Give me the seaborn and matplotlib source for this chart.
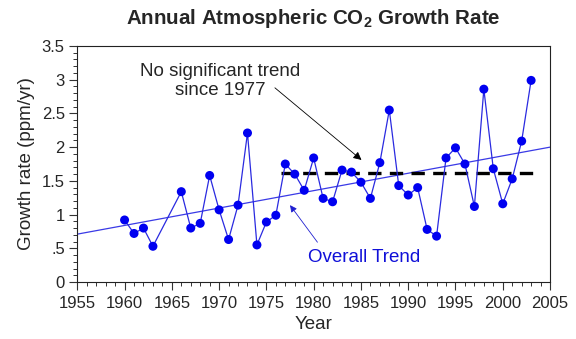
import matplotlib
matplotlib.use("Agg")
import matplotlib.pyplot as plt
import matplotlib.ticker as mticker
import seaborn as sns
import pandas as pd

years = [1960, 1961, 1962, 1963, 1966, 1967, 1968, 1969, 1970, 1971, 1972, 1973,
         1974, 1975, 1976, 1977, 1978, 1979, 1980, 1981, 1982, 1983, 1984, 1985,
         1986, 1987, 1988, 1989, 1990, 1991, 1992, 1993, 1994, 1995, 1996, 1997,
         1998, 1999, 2000, 2001, 2002, 2003]
growth = [0.92, 0.72, 0.80, 0.53, 1.34, 0.80, 0.87, 1.58, 1.07, 0.63, 1.14, 2.21,
          0.55, 0.89, 0.99, 1.75, 1.60, 1.36, 1.84, 1.24, 1.19, 1.66, 1.63, 1.48,
          1.24, 1.77, 2.55, 1.43, 1.29, 1.40, 0.78, 0.68, 1.84, 1.99, 1.75, 1.12,
          2.86, 1.68, 1.16, 1.53, 2.09, 2.99]

trend_years = [1955, 2005]
trend_values = [0.71, 2.00]

flat_years = [1976.5, 2004]
flat_values = [1.61, 1.61]

x_ticks = [1955, 1960, 1965, 1970, 1975, 1980, 1985, 1990, 1995, 2000, 2005]
y_ticks = [0, 0.5, 1, 1.5, 2, 2.5, 3, 3.5]
y_tick_labels = ["0", ".5", "1", "1.5", "2", "2.5", "3", "3.5"]

sns.set_style("ticks")
plt.rcParams["font.family"] = ["Liberation Sans", "DejaVu Sans"]
plt.rcParams["mathtext.fontset"] = "custom"
plt.rcParams["mathtext.rm"] = "Liberation Sans"
plt.rcParams["mathtext.bf"] = "Liberation Sans:bold"

df = pd.DataFrame({"Year": years, "Growth": growth})
trend_df = pd.DataFrame({"Year": trend_years, "Growth": trend_values})
flat_df = pd.DataFrame({"Year": flat_years, "Growth": flat_values})

fig = plt.figure(figsize=(5.76, 3.39), dpi=100)
ax = fig.add_axes([0.1342, 0.1681, 0.8207, 0.6962])

sns.lineplot(data=trend_df, x="Year", y="Growth", ax=ax, color="#3a3ae6", lw=0.9)
sns.lineplot(data=flat_df, x="Year", y="Growth", ax=ax, color="black", lw=2.4,
             dashes=False, linestyle=(0, (4.0, 2.5)))
sns.lineplot(data=df, x="Year", y="Growth", ax=ax, color="#2a2ae0", lw=0.9)
sns.scatterplot(data=df, x="Year", y="Growth", ax=ax, color="#0000f0", s=42,
                edgecolor="none", zorder=5)

ax.set_xlim(1955, 2005)
ax.set_ylim(0, 3.5)
ax.set_xticks(x_ticks)
ax.set_yticks(y_ticks)
ax.set_yticklabels(y_tick_labels)
ax.xaxis.set_minor_locator(mticker.MultipleLocator(1))
ax.yaxis.set_minor_locator(mticker.MultipleLocator(0.1))
ax.tick_params(axis="both", which="major", direction="out", length=6, width=0.8,
               labelsize=12, color="#333333")
ax.tick_params(axis="both", which="minor", direction="out", length=3, width=0.7,
               color="#333333")
ax.tick_params(axis="x", pad=4)
ax.tick_params(axis="y", pad=3)
for sp in ax.spines.values():
    sp.set_visible(True)
    sp.set_linewidth(0.8)
    sp.set_color("#222222")

ax.set_xlabel("Year", fontsize=13.5, labelpad=4)
ax.set_ylabel("Growth rate (ppm/yr)", fontsize=13.5, labelpad=5)

fig.text(0.5434, 1 - 19 / 339, r"Annual Atmospheric CO$_\mathbf{2}$ Growth Rate",
         ha="center", va="center", fontsize=14.8, fontweight="bold")

ax.text(1970.1, 2.98, "No significant trend\nsince 1977", ha="center",
        va="center", fontsize=13.5, linespacing=1.15)
ax.annotate("", xy=(1985.06, 1.81), xytext=(1975.9, 2.88),
            arrowprops=dict(arrowstyle="-|>", color="black", lw=0.6,
                            mutation_scale=12, shrinkA=0, shrinkB=0))

ax.text(1985.3, 0.37, "Overall Trend", ha="center", va="center",
        fontsize=13.5, color="#1010d8")
ax.annotate("", xy=(1977.5, 1.14), xytext=(1980.4, 0.59),
            arrowprops=dict(arrowstyle="-|>", color="#2020d0", lw=0.6,
                            mutation_scale=10, shrinkA=0, shrinkB=0))

fig.savefig("out.png", dpi=100)
